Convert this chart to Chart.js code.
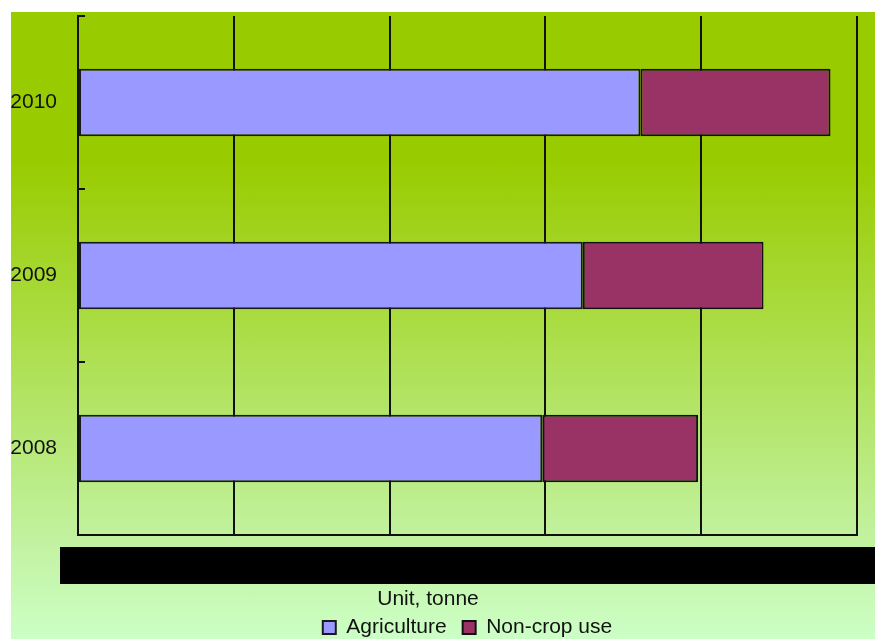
<!DOCTYPE html>
<html>
<head>
<meta charset="utf-8">
<script src="https://cdn.jsdelivr.net/npm/chart.js@4/dist/chart.umd.min.js"></script>
<style>
  html, body { margin: 0; padding: 0; background: #ffffff; overflow: hidden; width: 875px; height: 639px; }
  #bg { position: absolute; left: 11px; top: 12px; width: 864px; height: 627px;
        background: linear-gradient(to bottom, #99cc00 0px, #99cc00 150px, #c2f2a0 530px, #ccffc6 627px); }
  #wrap { position: absolute; left: -1px; top: 12px; width: 876px; height: 636px; }
</style>
</head>
<body>
<div id="bg"></div>
<div id="wrap"><canvas id="c" width="876" height="636"></canvas></div>
<script>
// ---- data ----
const years = ['2008', '2009', '2010'];
const agriculture = [29.8, 32.4, 36.1];
const nonCropUse = [10.0, 11.6, 12.2];
const seriesNames = ['Agriculture', 'Non-crop use'];
const axisUnit = 'Unit, tonne';
const xMin = 0, xMax = 50, xStep = 10;

Chart.defaults.font.family = "'Liberation Sans', Arial, sans-serif";
Chart.defaults.font.size = 21;
Chart.defaults.color = '#000';

// the black band under the plot where the value labels would be
const blackBand = {
  id: 'blackBand',
  beforeDraw(chart) {
    const { ctx, chartArea, scales } = chart;
    const left = chartArea.left - 18;
    ctx.save();
    ctx.fillStyle = '#000';
    ctx.fillRect(left, scales.x.top + 12, chart.width - left, 37);
    ctx.restore();
  }
};

new Chart(document.getElementById('c'), {
  type: 'bar',
  data: {
    labels: years,
    datasets: [
      { label: seriesNames[0], data: agriculture, backgroundColor: '#9999ff',
        borderColor: '#1a1a1a', borderWidth: 2, borderSkipped: false },
      { label: seriesNames[1], data: nonCropUse, backgroundColor: '#993366',
        borderColor: '#111', borderWidth: 2, borderSkipped: false }
    ]
  },
  options: {
    indexAxis: 'y',
    responsive: false,
    animation: false,
    layout: { padding: { top: 4, left: 0, right: 18, bottom: 0 } },
    datasets: { bar: { barPercentage: 0.39, categoryPercentage: 1 } },
    scales: {
      x: {
        stacked: true, min: xMin, max: xMax,
        ticks: { display: false, stepSize: xStep },
        grid: { color: '#111', lineWidth: 2, drawTicks: false },
        border: { color: '#111', width: 2 },
        afterFit(s) { s.height = 58; }
      },
      y: {
        stacked: true, reverse: true,
        ticks: { padding: 28, color: '#111', font: { size: 21 } },
        grid: { drawOnChartArea: false, drawTicks: true, tickLength: -7, color: '#111', lineWidth: 2 },
        border: { color: '#111', width: 2 },
        afterFit(s) { s.width = 79; s.paddingTop = 0; s.paddingBottom = 0; }
      }
    },
    plugins: {
      tooltip: { enabled: false },
      title: {
        display: true, text: axisUnit, position: 'bottom', fullSize: true, weight: 500,
        color: '#111', font: { size: 21, weight: 'normal', lineHeight: 0.2 },
        padding: { top: 3.8, bottom: 0 }
      },
      legend: {
        position: 'bottom', fullSize: false,
        labels: { boxWidth: 13, boxHeight: 13, padding: 16, color: '#111', font: { size: 21 } }
      }
    }
  },
  plugins: [blackBand]
});
</script>
</body>
</html>
